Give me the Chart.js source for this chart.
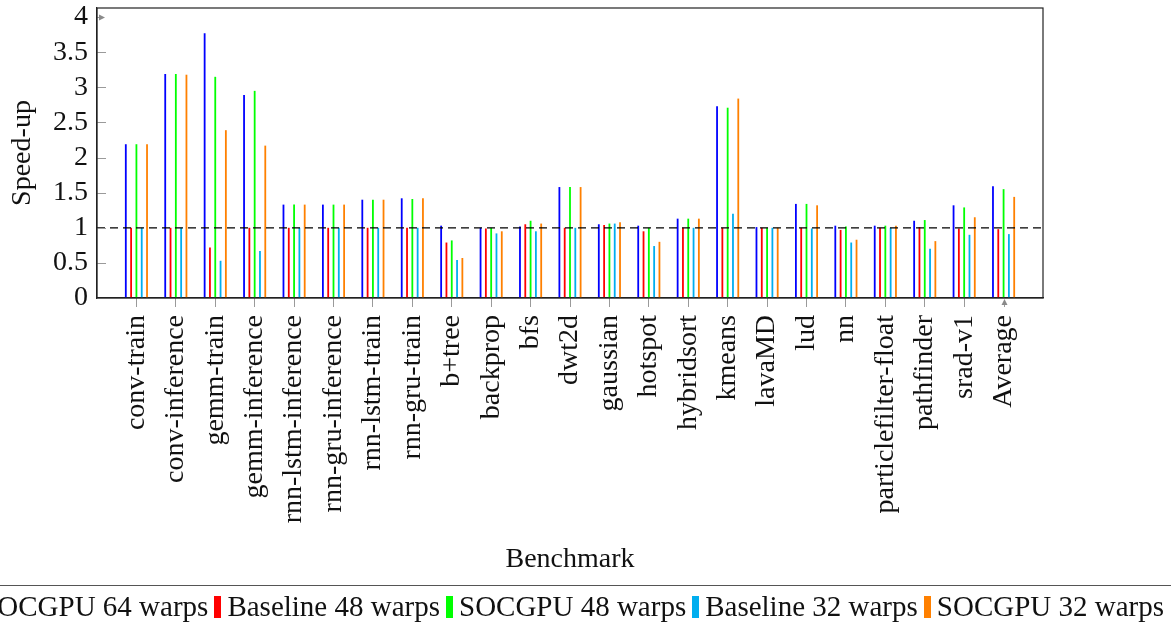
<!DOCTYPE html>
<html><head><meta charset="utf-8">
<script src="https://cdn.jsdelivr.net/npm/chart.js@4/dist/chart.umd.min.js"></script>
<style>
html,body{margin:0;padding:0;background:#fff;}
#wrap{position:relative;width:1171px;height:624px;overflow:hidden;background:#fff;}
#c{position:absolute;left:0;top:0;}
#legendLine{position:absolute;left:0;top:585px;width:1171px;height:0;border-top:1.5px solid #555;}
#legendBox{position:absolute;left:0;top:590px;width:1171px;height:34px;overflow:hidden;}
#legend{position:absolute;right:7px;top:0;display:flex;align-items:center;white-space:nowrap;font-family:'Liberation Serif',serif;font-size:29px;line-height:33px;color:#111;}
.mk{display:inline-block;width:7px;height:22px;margin:0 6px 0 6px;}
</style></head>
<body><div id="wrap"><canvas id="c" width="1171" height="624"></canvas><div id="legendLine"></div><div id="legendBox"><div id="legend"></div></div></div>
<script>
const categories = ['conv-train','conv-inference','gemm-train','gemm-inference','rnn-lstm-inference','rnn-gru-inference','rnn-lstm-train','rnn-gru-train','b+tree','backprop','bfs','dwt2d','gaussian','hotspot','hybridsort','kmeans','lavaMD','lud','nn','particlefilter-float','pathfinder','srad-v1','Average'];
const socgpu64   = [2.19,3.19,3.77,2.89,1.33,1.33,1.40,1.42,1.03,1.00,1.02,1.58,1.05,1.03,1.13,2.73,1.01,1.34,1.03,1.03,1.10,1.32,1.59];
const baseline48 = [1.00,1.00,0.72,1.00,1.00,1.00,1.00,1.00,0.79,0.99,1.05,1.00,1.04,0.95,1.00,1.00,1.00,1.00,0.97,1.00,1.01,0.99,0.98];
const socgpu48   = [2.19,3.19,3.15,2.95,1.33,1.33,1.40,1.41,0.82,1.00,1.10,1.58,1.06,1.00,1.13,2.71,1.00,1.34,1.02,1.03,1.11,1.29,1.55];
const baseline32 = [1.00,1.00,0.53,0.67,1.00,1.00,1.00,1.00,0.54,0.92,0.95,1.00,1.06,0.74,1.00,1.20,1.00,0.99,0.79,1.00,0.70,0.90,0.91];
const socgpu32   = [2.19,3.18,2.39,2.17,1.33,1.33,1.40,1.42,0.57,0.95,1.06,1.58,1.08,0.80,1.13,2.84,1.00,1.32,0.83,1.03,0.81,1.15,1.44];
const seriesNames = ['SOCGPU 64 warps','Baseline 48 warps','SOCGPU 48 warps','Baseline 32 warps','SOCGPU 32 warps'];
const seriesColors = ['#0000ff','#ff0000','#00ff00','#00aeef','#ff8000'];
const yTicks = [0,0.5,1,1.5,2,2.5,3,3.5,4];
const referenceLevel = 1;

const labels = [''].concat(categories, ['']);
const pad = a => [null].concat(a, [null]);
const seriesValues = [socgpu64, baseline48, socgpu48, baseline32, socgpu32];
const datasets = seriesValues.map((v,i) => ({
  label: seriesNames[i], data: pad(v), backgroundColor: seriesColors[i], borderWidth: 0
}));

const FONT = {family:"'Liberation Serif', serif", size:28};
const TXT = '#111';

const decor = {
  id:'decor',
  afterDatasetsDraw(chart){
    const {ctx, chartArea:a, scales:{x,y}} = chart;
    ctx.save();
    const yr = y.getPixelForValue(referenceLevel);
    ctx.strokeStyle = '#000'; ctx.lineWidth = 1.3; ctx.setLineDash([8,5]);
    ctx.beginPath(); ctx.moveTo(a.left, yr); ctx.lineTo(a.right, yr); ctx.stroke();
    ctx.setLineDash([]);
    ctx.strokeStyle = '#9a9a9a'; ctx.lineWidth = 1;
    yTicks.forEach((v,i) => {
      const py = Math.round(y.getPixelForValue(v)) + 0.5;
      if (i === yTicks.length-1) {
        ctx.fillStyle = '#8a8a8a';
        ctx.beginPath(); ctx.moveTo(a.left, py); ctx.lineTo(a.left+4, py); ctx.stroke();
        ctx.beginPath(); ctx.moveTo(a.left+2, py-3); ctx.lineTo(a.left+8, py); ctx.lineTo(a.left+2, py+3); ctx.closePath(); ctx.fill();
      } else if (i > 0) {
        ctx.beginPath(); ctx.moveTo(a.left, py); ctx.lineTo(a.left+9, py); ctx.stroke();
      }
    });
    const px = Math.round(x.getPixelForValue(categories.length)) + 0.5;
    ctx.fillStyle = '#8a8a8a';
    ctx.beginPath(); ctx.moveTo(px, a.bottom+9); ctx.lineTo(px, a.bottom+5); ctx.stroke();
    ctx.beginPath(); ctx.moveTo(px-3, a.bottom+7); ctx.lineTo(px, a.bottom+1); ctx.lineTo(px+3, a.bottom+7); ctx.closePath(); ctx.fill();
    ctx.strokeStyle = '#222'; ctx.lineWidth = 1.2;
    ctx.strokeRect(a.left, a.top, a.right-a.left, a.bottom-a.top);
    ctx.restore();
  }
};

new Chart(document.getElementById('c'), {
  type:'bar',
  data:{labels, datasets},
  plugins:[decor],
  options:{
    responsive:false, animation:false, devicePixelRatio:1,
    layout:{padding:{left:0,right:128,top:8,bottom:48}},
    plugins:{legend:{display:false}, tooltip:{enabled:false}},
    datasets:{bar:{categoryPercentage:0.673, barPercentage:0.34}},
    scales:{
      x:{
        type:'category', offset:false,
        grid:{offset:false, drawOnChartArea:false, drawTicks:true, tickLength:9, lineWidth:1,
          color: c => (c.index===0 || c.index>=labels.length-2) ? 'rgba(0,0,0,0)' : '#9a9a9a'},
        border:{display:true, color:'#222', width:1.2},
        ticks:{font:FONT, color:TXT, minRotation:90, maxRotation:90, autoSkip:false, padding:8},
        title:{display:true, text:'Benchmark', font:FONT, color:TXT, padding:{top:0,bottom:0}},
        afterFit: s => { s.height = 278; s.paddingLeft = 0; s.paddingRight = 0; }
      },
      y:{
        min:0, max:4.13,
        afterBuildTicks: s => { s.ticks = yTicks.map(v => ({value:v})); },
        grid:{drawOnChartArea:false, drawTicks:false},
        border:{display:true, color:'#222', width:1.2},
        ticks:{font:FONT, color:TXT, padding:9, autoSkip:false, callback: v => String(v)},
        title:{display:true, text:'Speed-up', font:FONT, color:TXT, padding:{top:6,bottom:0}},
        afterFit: s => { s.width = 97; s.paddingTop = 0; s.paddingBottom = 0; }
      }
    }
  }
});

const lg = document.getElementById('legend');
seriesNames.forEach((n,i) => {
  const m = document.createElement('span'); m.className='mk'; m.style.background = seriesColors[i];
  const t = document.createElement('span'); t.textContent = n;
  lg.appendChild(m); lg.appendChild(t);
});
</script>
</body></html>
